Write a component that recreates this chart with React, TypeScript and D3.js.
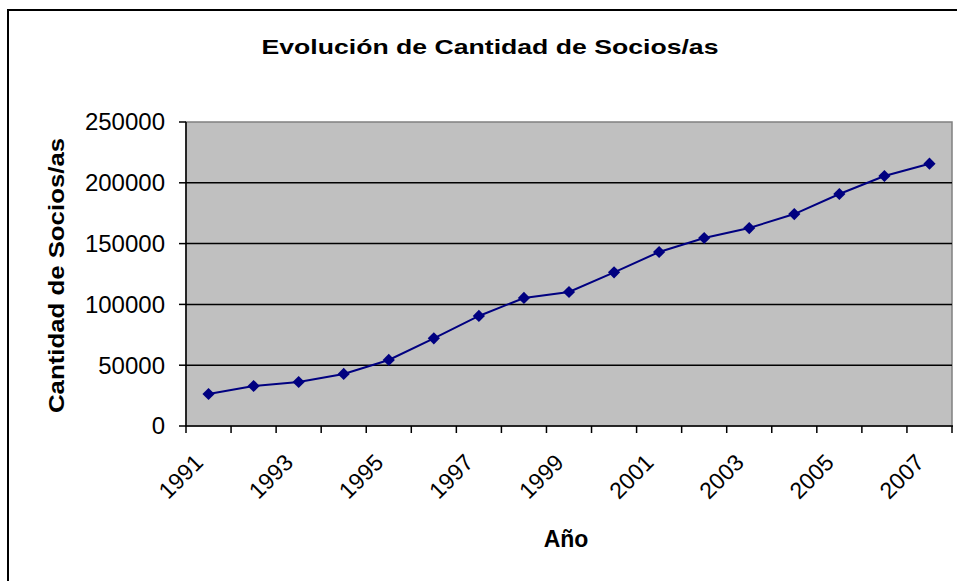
import React from "react";
import * as d3 from "d3";

const years = ["1991","1992","1993","1994","1995","1996","1997","1998","1999","2000","2001","2002","2003","2004","2005","2006","2007"];
const socios = [26300,32900,36200,42800,54300,72100,90500,105300,110200,126400,143100,154600,162800,174300,190800,205600,215700];
const yTicks = [0,50000,100000,150000,200000,250000];
const labelYears = ["1991","1993","1995","1997","1999","2001","2003","2005","2007"];

const W = 957, H = 581;
const L = 186, R = 952, T = 122, B = 426;
const FONT = "'Liberation Sans', Arial, Helvetica, sans-serif";

export default function App() {
  const x = d3.scaleBand().domain(years).range([L, R]).paddingInner(0).paddingOuter(0);
  const y = d3.scaleLinear().domain([0, 250000]).range([B, T]);
  const cx = (d: string) => (x(d) as number) + x.bandwidth() / 2;
  const line = d3.line<number>().x((_, i) => cx(years[i])).y((v) => y(v));
  const diamond = d3.symbol().type(d3.symbolDiamond2).size(95)();
  const tickXs = [...years.map((d) => x(d) as number), R];

  return (
    <svg width={W} height={H} style={{ position: "absolute", left: 0, top: 0, background: "#fff" }} fontFamily={FONT}>
      <rect x={8} y={10} width={1000} height={700} fill="#fff" stroke="#000" strokeWidth={2} />
      <text transform="translate(490,53.5) scale(1.28,1)" textAnchor="middle" fontSize={20.8} fontWeight="bold" fill="#000">
        Evolución de Cantidad de Socios/as
      </text>
      {/* plot area */}
      <rect x={L} y={T} width={R - L} height={B - T} fill="#C0C0C0" stroke="#808080" strokeWidth={1.5} />
      {yTicks.filter((t) => t > 0 && t < 250000).map((t) => (
        <line key={t} x1={L} x2={R} y1={y(t)} y2={y(t)} stroke="#000" strokeWidth={1.5} />
      ))}
      {/* axes */}
      <line x1={L} x2={L} y1={T} y2={B} stroke="#000" strokeWidth={1.5} />
      <line x1={L} x2={R + 1} y1={B} y2={B} stroke="#000" strokeWidth={1.5} />
      {yTicks.map((t) => (
        <g key={t}>
          <line x1={L - 7} x2={L} y1={y(t)} y2={y(t)} stroke="#000" strokeWidth={1.5} />
          <text x={165} y={y(t)} dy="0.35em" textAnchor="end" fontSize={24} fill="#000">{t}</text>
        </g>
      ))}
      {tickXs.map((tx, i) => (
        <line key={i} x1={tx} x2={tx} y1={B} y2={B + 7} stroke="#000" strokeWidth={1.5} />
      ))}
      {labelYears.map((yr) => (
        <text key={yr} transform={`translate(${cx(yr) - 4},464) rotate(-45)`} textAnchor="end" fontSize={23} fill="#000">{yr}</text>
      ))}
      <text x={566} y={547} textAnchor="middle" fontSize={23} fontWeight="bold" fill="#000">Año</text>
      <text transform="translate(64,275.5) rotate(-90) scale(1.2,1)" textAnchor="middle" fontSize={21.5} fontWeight="bold" fill="#000">
        Cantidad de Socios/as
      </text>
      {/* series */}
      <path d={line(socios) || ""} fill="none" stroke="#000080" strokeWidth={2} />
      {socios.map((v, i) => (
        <path key={i} d={diamond || ""} transform={`translate(${cx(years[i])},${y(v)})`} fill="#000080" />
      ))}
    </svg>
  );
}
